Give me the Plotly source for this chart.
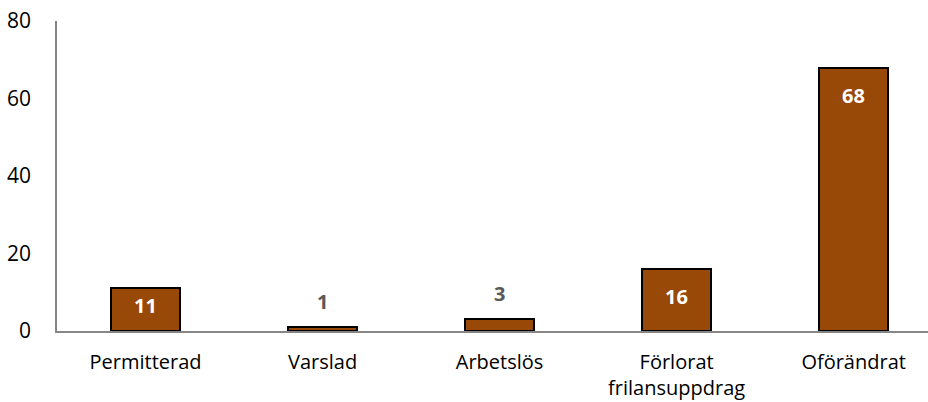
import plotly.graph_objects as go

categories = ["Permitterad", "Varslad", "Arbetslös", "Förlorat<br>frilansuppdrag", "Oförändrat"]
values = [11, 1, 3, 16, 68]
y_ticks = [0, 20, 40, 60, 80]

FONT = "Open Sans, Calibri, sans-serif"
BAR = "#984807"

fig = go.Figure(go.Bar(
    x=categories, y=values, width=0.39,
    marker=dict(color=BAR, line=dict(color="black", width=2)),
    hoverinfo="x+y",
))

plot_h = 402 - 21 - 71
px_per_unit = plot_h / 80
annotations = []
for c, v in zip(categories, values):
    h = v * px_per_unit
    if h > 30:
        off = min(28, h / 2 - 4)
        annotations.append(dict(x=c, y=v, text=f"<b>{v}</b>", showarrow=False,
                                yanchor="middle", yshift=-off,
                                font=dict(family=FONT, size=20, color="white")))
    else:
        annotations.append(dict(x=c, y=v, text=f"<b>{v}</b>", showarrow=False,
                                yanchor="middle", yshift=26,
                                font=dict(family=FONT, size=20, color="#595959")))

fig.update_layout(
    width=928, height=402,
    margin=dict(l=57, r=0, t=21, b=71, autoexpand=False),
    plot_bgcolor="white", paper_bgcolor="white",
    showlegend=False,
    font=dict(family=FONT, size=20, color="black"),
    annotations=annotations,
    bargap=0,
)
fig.update_xaxes(range=[-0.5, 4.42], showline=True, linecolor="#868686", linewidth=1.5,
                 ticks="outside", tickcolor="rgba(0,0,0,0)", ticklen=12,
                 showgrid=False, zeroline=False, fixedrange=True, automargin=False)
fig.update_yaxes(range=[0, 80], tickvals=y_ticks, showline=True, linecolor="#868686",
                 linewidth=1.5, ticks="outside", tickcolor="rgba(0,0,0,0)", ticklen=20,
                 tickfont=dict(size=21),
                 showgrid=False, zeroline=False, fixedrange=True, automargin=False)

fig.write_html("out.html", config={"displayModeBar": False},
               post_script="document.body.style.margin='0';document.body.style.overflow='hidden';")
